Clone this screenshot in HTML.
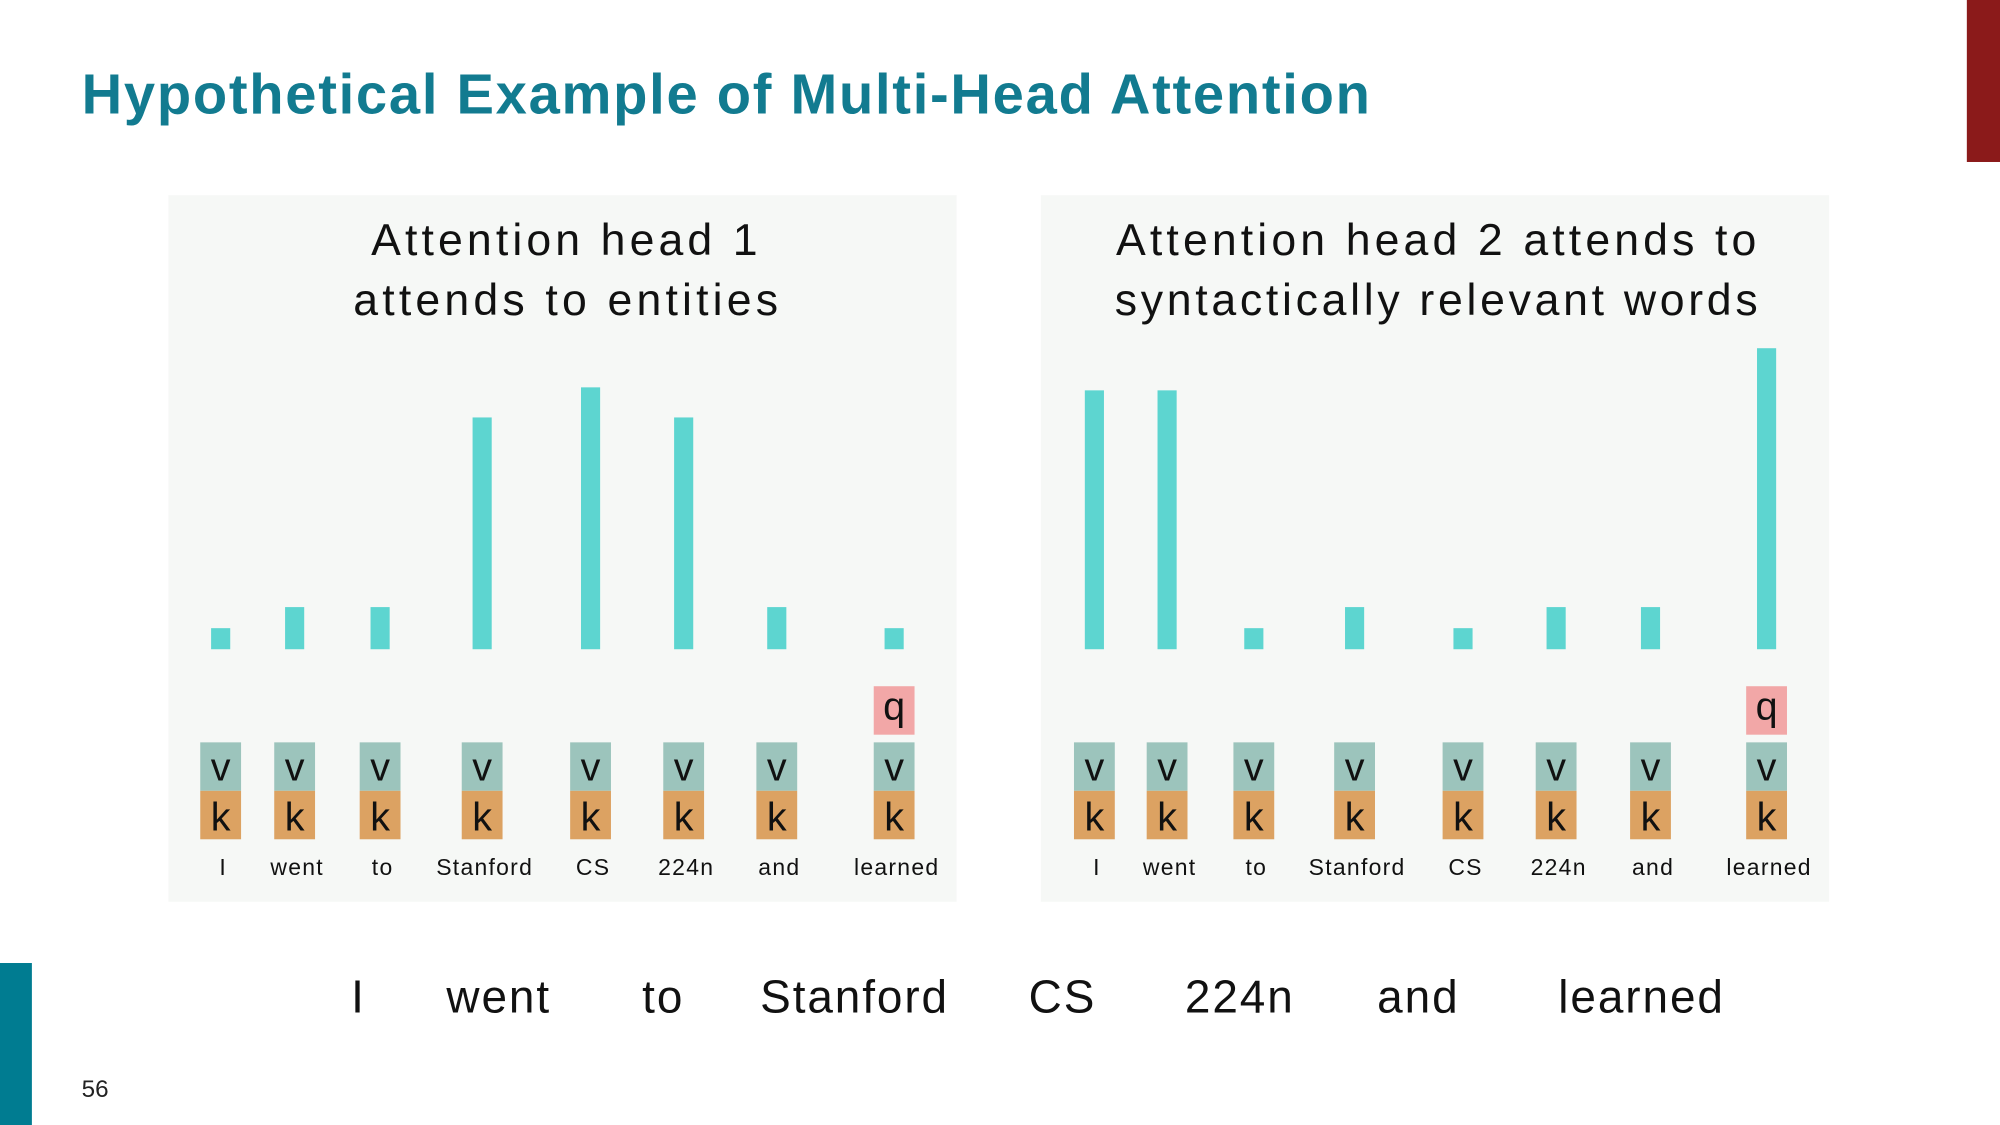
<!DOCTYPE html>
<html><head><meta charset="utf-8"><style>
html,body{margin:0;padding:0;background:#fff;}
svg{display:block;}
text{font-family:"Liberation Sans","DejaVu Sans",sans-serif;}
</style></head><body>
<svg id="s" width="2000" height="1125" viewBox="0 0 1568 882" xmlns="http://www.w3.org/2000/svg">
<rect width="1568" height="882" fill="#fff"/>
<text x="64" y="89" font-size="44" font-weight="bold" fill="#127b90" textLength="1010" lengthAdjust="spacing">Hypothetical Example of Multi-Head Attention</text>
<rect x="1542" y="0" width="26" height="127" fill="#8b1a1a"/>
<rect x="0" y="755" width="25" height="127" fill="#007c91"/>
<text x="64" y="860" font-size="19" fill="#222">56</text>
<rect x="132" y="153" width="618" height="554" fill="#f6f8f6"/>
<rect x="816" y="153" width="618" height="554" fill="#f6f8f6"/>
<text x="291" y="200" font-size="35" fill="#111" textLength="303" lengthAdjust="spacing">Attention head 1</text>
<text x="277" y="247" font-size="35" fill="#111" textLength="333" lengthAdjust="spacing">attends to entities</text>
<text x="875" y="200" font-size="35" fill="#111" textLength="502" lengthAdjust="spacing">Attention head 2 attends to</text>
<text x="874" y="247" font-size="35" fill="#111" textLength="504" lengthAdjust="spacing">syntactically relevant words</text>
<g id="g"></g>
</svg>
<script>
const words = ["I","went","to","Stanford","CS","224n","and","learned"];
const head1 = [0.07,0.14,0.14,0.77,0.87,0.77,0.14,0.07];
const head2 = [0.86,0.86,0.07,0.14,0.07,0.14,0.14,1.0];
const centers1 = [173,231,298,378,463,536,609,701];
const centers2 = [858,915,983,1062,1147,1220,1294,1385];
const bottomCenters = [281,391,520,670,833,972,1112,1287];
const NS="http://www.w3.org/2000/svg";
const g=document.getElementById('g');
const baseY=509, maxH=236;
function yScale(v){return baseY - v*maxH;}
function mk(tag,attrs,txt){const e=document.createElementNS(NS,tag);for(const k in attrs)e.setAttribute(k,attrs[k]);if(txt!==undefined)e.textContent=txt;g.appendChild(e);return e;}
function panel(vals,cx,h){
  vals.forEach((v,i)=>{
    const x=cx[i];
    const b=mk('rect',{x:x-7.5,y:yScale(v),width:15,height:baseY-yScale(v),fill:'#5dd5d0'});
    
    
    const vr=mk('rect',{x:x-16,y:582,width:32,height:38,fill:'#9cc4bc'});
    
    
    const kr=mk('rect',{x:x-16,y:620,width:32,height:38,fill:'#dca262'});
    
    
    const vt=mk('text',{x:x,y:612,'font-size':31,'text-anchor':'middle',fill:'#111'},'v');
    
    
    const kt=mk('text',{x:x,y:651,'font-size':31,'text-anchor':'middle',fill:'#111'},'k');
    
    
    const wt=mk('text',{x:x+2,y:686,'font-size':18,'letter-spacing':1,'text-anchor':'middle',fill:'#111'},words[i]);
    
    
  });
  const last=cx[cx.length-1];
  const q=mk('rect',{x:last-16,y:538,width:32,height:38,fill:'#f2a7a7'});
  
  
  const qt=mk('text',{x:last,y:564,'font-size':31,'text-anchor':'middle',fill:'#111'},'q');
  
  
}
panel(head1,centers1,'h1');
panel(head2,centers2,'h2');
words.forEach((w,i)=>{
  const t=mk('text',{x:bottomCenters[i],y:794,'font-size':36,'letter-spacing':1.5,'text-anchor':'middle',fill:'#111'},w);
  
  
});
</script>
</body></html>
